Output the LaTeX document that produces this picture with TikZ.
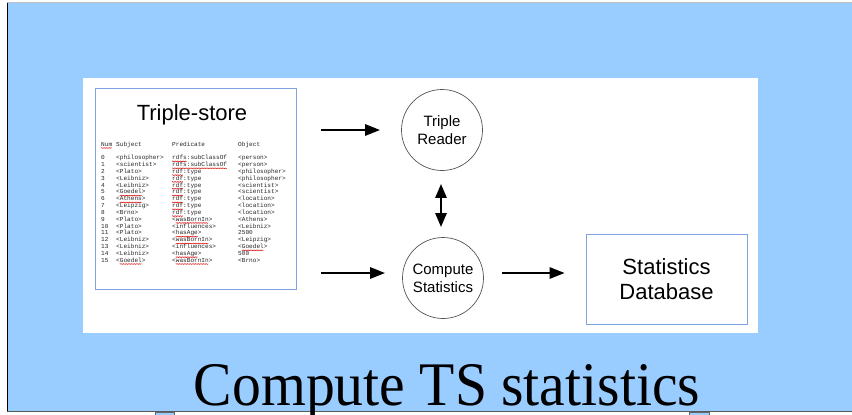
\documentclass[tikz,border=0pt]{standalone}
\usepackage{fontspec}
\setmainfont{Liberation Serif}
\newfontfamily\sansf{Liberation Sans}
\newfontfamily\monof{Liberation Mono}
\usetikzlibrary{arrows.meta,decorations.pathmorphing}
\definecolor{slideblue}{HTML}{99CCFF}
\definecolor{boxblue}{HTML}{80A4E0}
\definecolor{circgray}{HTML}{555555}
\tikzset{
  tbl/.style={anchor=base west, inner sep=0pt, font=\monof\fontsize{6.1}{6.84}\selectfont, text=black!85},
  spell/.style={draw=red!85!black, line width=0.35pt, decorate, decoration={snake, amplitude=0.45pt, segment length=1.6pt}},
  proc/.style={circle, draw=circgray, line width=0.7pt, minimum size=81pt, inner sep=0pt, align=center, font=\sansf\fontsize{15}{18}\selectfont},
  flow/.style={line width=2.6pt, -{Triangle[length=15pt,width=11pt]}},
  biflow/.style={line width=2.6pt, {Triangle[length=14pt,width=11pt]}-{Triangle[length=14pt,width=11pt]}},
  handle/.style={fill=slideblue, draw=black!60, line width=0.5pt}
}
\newcommand\spl[4]{\path[spell] ({#2+#3*3.66},{159.7+#1*6.84+1.7}) -- ++({#4*3.66},0);}
\begin{document}
\begin{tikzpicture}[x=1pt,y=-1pt]
\useasboundingbox (0,0) rectangle (852,415);
\fill[white] (0,0) rectangle (852,415);
% slide
\fill[slideblue] (7,3) rectangle (852,412);
\draw[black!25, line width=1pt] (7,2.5) -- (852,2.5);
\draw[black, line width=1.2pt] (7.5,3) -- (7.5,412);
\draw[black!65, line width=1pt] (7,411.8) -- (852,411.8);
\path[handle] (155.5,412.3) rectangle (174.5,416);
\path[handle] (689.5,412.3) rectangle (709.5,416);
% white panel
\fill[white] (83,78) rectangle (758,333);
% triple store box
\node[draw=boxblue, line width=0.6pt, minimum width=201pt, minimum height=201pt, inner sep=0pt] (store) at (196,188.5) {};
\node[font=\sansf\fontsize{22}{22}\selectfont, anchor=base] (storetitle) at (192,120) {Triple-store};
% table
\foreach \r/\n/\s/\p/\o in {
  -1.96/Num/Subject/Predicate/Object,
  0/0/<philosopher>/rdfs:subClassOf/<person>,
  1/1/<scientist>/rdfs:subClassOf/<person>,
  2/2/<Plato>/rdf:type/<philosopher>,
  3/3/<Leibniz>/rdf:type/<philosopher>,
  4/4/<Leibniz>/rdf:type/<scientist>,
  5/5/<Goedel>/rdf:type/<scientist>,
  6/6/<Athens>/rdf:type/<location>,
  7/7/<Leipzig>/rdf:type/<location>,
  8/8/<Brno>/rdf:type/<location>,
  9/9/<Plato>/<wasBornIn>/<Athens>,
  10/10/<Plato>/<influences>/<Leibniz>,
  11/11/<Plato>/<hasAge>/2500,
  12/12/<Leibniz>/<wasBornIn>/<Leipzig>,
  13/13/<Leibniz>/<influences>/<Goedel>,
  14/14/<Leibniz>/<hasAge>/500,
  15/15/<Goedel>/<wasBornIn>/<Brno>} {
  \node[tbl] (n\r) at (101,{159.7+\r*6.84}) {\n};
  \node[tbl] (s\r) at (116,{159.7+\r*6.84}) {\s};
  \node[tbl] (p\r) at (172,{159.7+\r*6.84}) {\p};
  \node[tbl] (o\r) at (238,{159.7+\r*6.84}) {\o};
}
% spell-check squiggles
\spl{-1.96}{101}{0}{3}
\spl{0}{172}{0}{4}
\spl{1}{172}{0}{15}
\foreach \r in {2,...,8} {\spl{\r}{172}{0}{3}}
\spl{5}{116}{1}{6}
\spl{6}{116}{1}{6}
\spl{9}{172}{1}{9}
\spl{11}{172}{1}{6}
\spl{12}{172}{1}{9}
\spl{13}{238}{1}{6}
\spl{14}{172}{1}{6}
\spl{15}{116}{1}{6}
\spl{15}{172}{1}{9}
% processes
\node[proc] (reader) at (442,130) {Triple\\Reader};
\node[proc] (compute) at (443,278) {Compute\\Statistics};
\node[draw=boxblue, line width=0.6pt, minimum width=161pt, minimum height=90pt, inner sep=0pt, align=center, font=\sansf\fontsize{22}{25}\selectfont] (db) at (666.5,279) {Statistics\\Database};
% connectors
\coordinate (cin) at ([yshift=5pt]compute.west);
\coordinate (cout) at ([yshift=5pt]compute.east);
\draw[flow] ([xshift=24pt]store.east |- reader) -- ([xshift=-21pt]reader.west);
\draw[flow] ([xshift=24pt]store.east |- cin) -- ([xshift=-17pt]cin);
\draw[biflow] ([xshift=-1pt,yshift=-13pt]reader.south) -- ([xshift=-2pt,yshift=10pt]compute.north);
\draw[flow] ([xshift=18pt]cout) -- ([xshift=-21pt]db.west |- cout);
% title
\node[anchor=base, inner sep=0pt, font=\fontsize{62}{62}\selectfont, xscale=0.93] (title) at (447,405) {Compute TS statistics};
\end{tikzpicture}
\end{document}
